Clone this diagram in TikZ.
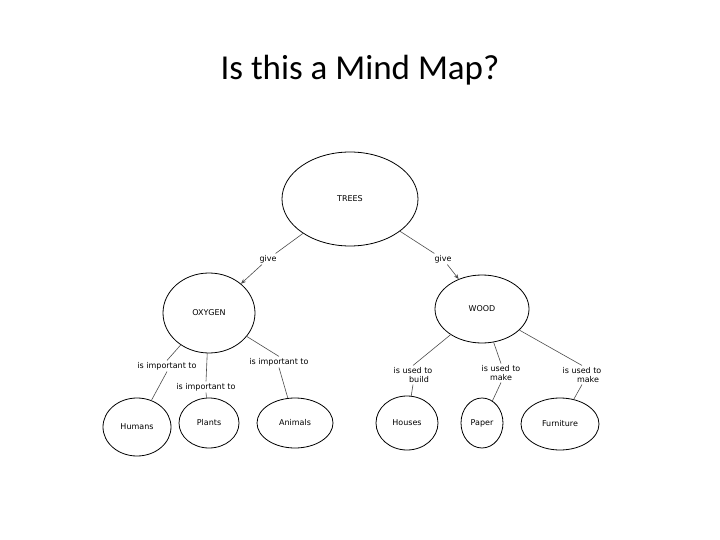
\documentclass[tikz,border=0pt]{standalone}
\usepackage{fontspec}
\setmainfont{Carlito}
\newfontfamily\lblfont{DejaVu Sans}
\usetikzlibrary{shapes.geometric,arrows.meta}
\begin{document}
\begin{tikzpicture}[x=1pt,y=-1pt,
  el/.style={draw,ellipse,line width=0.8pt,inner sep=0pt,font=\lblfont\fontsize{8}{9}\selectfont},
  lb/.style={font=\lblfont\fontsize{8}{9.5}\selectfont,align=center,inner sep=1.5pt},
  ln/.style={draw,line width=0.6pt,gray!60!black},
  ar/.style={ln,-{Stealth[length=5pt,width=4pt]}}]
\useasboundingbox (0,0) rectangle (720,540);
\node[font=\fontsize{35}{38}\selectfont] (title) at (360,70) {Is this a Mind Map?};
\node[el,minimum width=136pt,minimum height=94pt] (trees) at (350,199) {TREES};
\node[el,minimum width=92pt,minimum height=80pt] (oxy) at (209,313) {OXYGEN};
\node[el,minimum width=94pt,minimum height=68pt] (wood) at (482,309) {WOOD};
\node[el,minimum width=68pt,minimum height=58pt] (hum) at (137,427) {Humans};
\node[el,minimum width=60pt,minimum height=50pt] (pla) at (209,423) {Plants};
\node[el,minimum width=76pt,minimum height=50pt] (ani) at (295,423) {Animals};
\node[el,minimum width=62pt,minimum height=54pt] (hou) at (407,423) {Houses};
\node[el,minimum width=42pt,minimum height=50pt] (pap) at (482,423) {Paper};
\node[el,minimum width=78pt,minimum height=52pt] (fur) at (560,424) {Furniture};
\node[lb] (g1) at (268,259) {give};
\node[lb] (g2) at (443,259) {give};
\node[lb] (i1) at (167,366) {is important to};
\node[lb] (i2) at (206,387) {is important to};
\node[lb] (i3) at (279,362) {is important to};
\node[lb] (u1) at (413,375) {is used to\\\hspace*{1.5em}build};
\node[lb] (u2) at (501,373) {is used to\\make};
\node[lb] (u3) at (582,375) {is used to\\\hspace*{1.5em}make};
\draw[ln] (trees) -- (g1); \draw[ar] (g1) -- (oxy);
\draw[ln] (trees) -- (g2); \draw[ar] (g2) -- (wood);
\draw[ln] (oxy) -- (i1.north); \draw[ln] (i1.south) -- (hum);
\draw[ln] (oxy) -- (i2.north); \draw[ln] (i2.south) -- (pla);
\draw[ln] (oxy) -- (i3.north); \draw[ln] (i3.south) -- (ani);
\draw[ln] (wood) -- (u1.north); \draw[ln] (u1.south) -- (hou);
\draw[ln] (wood) -- (u2.north); \draw[ln] (u2.south) -- (pap);
\draw[ln] (wood) -- (u3.north); \draw[ln] (u3.south) -- (fur);
\end{tikzpicture}
\end{document}
